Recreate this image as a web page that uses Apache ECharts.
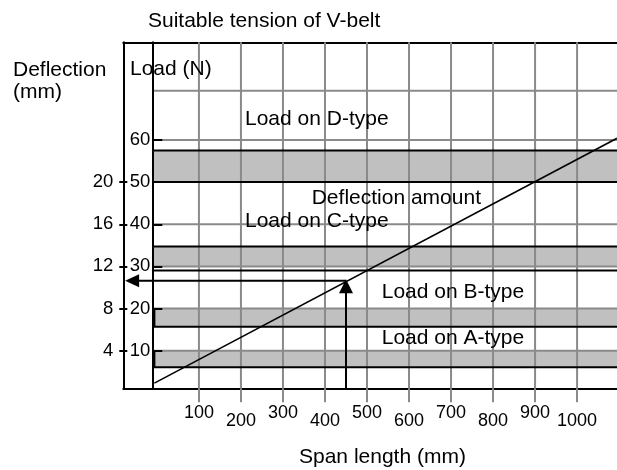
<!DOCTYPE html>
<html>
<head>
<meta charset="utf-8">
<script src="https://cdn.jsdelivr.net/npm/echarts@6/dist/echarts.min.js"></script>
<style>
  html, body { margin: 0; padding: 0; background: #fff; }
  #chart { width: 617px; height: 470px; }
</style>
</head>
<body>
<div id="chart"></div>
<script>
// 数据
//-----

// 横轴：跨距 (mm)
var spanTicks = [100, 200, 300, 400, 500, 600, 700, 800, 900, 1000];
// 纵轴：载荷 (N) 与挠度 (mm)
var loadTicks = [10, 20, 30, 40, 50, 60];
var deflectionTicks = [4, 8, 12, 16, 20];
var loadGrid = [10, 20, 30, 40, 50, 60, 71.7];

// 各型号皮带的载荷范围
var bandNames = ['D', 'C', 'B', 'A'];
var bandLow = [50, 30, 15.7, 6.1];
var bandHigh = [57.5, 34.7, 20, 10];
var bandStart = [-11, -11, -6, -6];
var bandRules = [57.5, 50, 34.7, 29, 15.7, 6.1];

// 挠度线 与 示例读数
var deflectionLine = [[-6, 2.3], [1095, 60.4]];
var exampleSpan = 450;
var exampleLoad = 26.6;

// 坐标范围
var spanMin = -80, spanMax = 1095, loadAxisAt = -11;
var loadMin = 1.08, loadMax = 83.17;
var ratio = 0.4; // 挠度 = 载荷 * 0.4

var GRAY = '#8a8a8a';
var FONT = '"Liberation Sans", Arial, sans-serif';

var myChart = echarts.init(document.getElementById('chart'));

function lineItem(p1, p2, color, width) {
  return {
    type: 'line',
    shape: { x1: p1[0], y1: p1[1], x2: p2[0], y2: p2[1] },
    style: { stroke: color, lineWidth: width }
  };
}

function label(text, x, y, align) {
  return {
    type: 'text', x: x, y: y, z: 100,
    style: { text: text, fill: '#000', fontSize: 21, fontFamily: FONT,
             align: align || 'left', verticalAlign: 'middle' }
  };
}

var option = {
  animation: false,
  backgroundColor: '#fff',
  grid: { left: 123.3, right: 0, top: 42.3, bottom: 81.7 },
  xAxis: [
    {
      type: 'value', position: 'bottom', min: spanMin, max: spanMax,
      axisLine: { onZero: false, lineStyle: { color: '#000', width: 2 } },
      axisTick: { customValues: spanTicks, length: 14, lineStyle: { color: GRAY, width: 2 } },
      axisLabel: {
        customValues: spanTicks, margin: 16, color: '#000',
        fontSize: 18, fontFamily: FONT,
        formatter: function (v) {
          return (v / 100) % 2 ? '{hi|' + v + '}' : '{lo|' + v + '}';
        },
        rich: {
          hi: { fontSize: 18, fontFamily: FONT, color: '#000' },
          lo: { fontSize: 18, fontFamily: FONT, color: '#000', padding: [8, 0, 0, 0] }
        }
      },
      splitLine: { show: false }
    },
    {
      type: 'value', position: 'top', min: spanMin, max: spanMax,
      axisLine: { onZero: false, lineStyle: { color: '#000', width: 2 } },
      axisTick: { show: false }, axisLabel: { show: false }, splitLine: { show: false }
    }
  ],
  yAxis: [
    {
      // 载荷 (N)
      type: 'value', position: 'left', offset: -29, min: loadMin, max: loadMax, z: 5,
      axisLine: { show: true, onZero: false, lineStyle: { color: '#000', width: 2 } },
      axisTick: { show: true, customValues: loadTicks, inside: true, length: 10,
                  lineStyle: { color: '#000', width: 2 } },
      axisLabel: { customValues: loadTicks, margin: 2, color: '#000', fontSize: 18.5, fontFamily: FONT },
      splitLine: { show: false }
    },
    {
      // 挠度 (mm)
      type: 'value', position: 'left', min: loadMin * ratio, max: loadMax * ratio, z: 5,
      axisLine: { show: true, onZero: false, lineStyle: { color: '#000', width: 2 } },
      axisTick: { show: true, customValues: deflectionTicks, length: 4,
                  lineStyle: { color: '#000', width: 2 } },
      axisLabel: { customValues: deflectionTicks, margin: 10, color: '#000', fontSize: 18.5, fontFamily: FONT },
      splitLine: { show: false }
    },
    {
      type: 'value', position: 'left', min: loadMin * ratio, max: loadMax * ratio, z: 5,
      axisLine: { show: false, onZero: false },
      axisTick: { show: true, customValues: deflectionTicks, inside: true, length: 4,
                  lineStyle: { color: '#000', width: 2 } },
      axisLabel: { show: false },
      splitLine: { show: false }
    }
  ],
  series: [
    {
      // 灰色载荷带
      type: 'custom', z: 1,
      data: bandNames.map(function (n, i) { return [bandStart[i], bandLow[i], bandHigh[i]]; }),
      encode: { x: 0, y: [1, 2] },
      renderItem: function (params, api) {
        var x0 = api.value(0);
        var tl = api.coord([x0, api.value(2)]);
        var br = api.coord([spanMax, api.value(1)]);
        var children = [{
          type: 'rect',
          shape: { x: tl[0], y: tl[1], width: br[0] - tl[0], height: br[1] - tl[1] },
          style: { fill: '#c0c0c0' }
        }];
        if (x0 > loadAxisAt) {
          children.push(lineItem([tl[0], tl[1]], [tl[0], br[1]], '#000', 2));
        }
        return { type: 'group', children: children };
      }
    },
    {
      // 纵向网格
      type: 'custom', z: 2,
      data: spanTicks.map(function (v) { return [v, loadMin]; }),
      encode: { x: 0, y: 1 },
      renderItem: function (params, api) {
        return lineItem(api.coord([api.value(0), loadMin]), api.coord([api.value(0), loadMax]), GRAY, 2);
      }
    },
    {
      // 横向网格
      type: 'custom', z: 2,
      data: loadGrid.map(function (v) { return [loadAxisAt, v]; }),
      encode: { x: 0, y: 1 },
      renderItem: function (params, api) {
        return lineItem(api.coord([loadAxisAt, api.value(1)]), api.coord([spanMax, api.value(1)]), GRAY, 2);
      }
    },
    {
      // 载荷带边线
      type: 'custom', z: 3,
      data: bandRules.map(function (v) { return [loadAxisAt, v]; }),
      encode: { x: 0, y: 1 },
      renderItem: function (params, api) {
        return lineItem(api.coord([loadAxisAt, api.value(1)]), api.coord([spanMax, api.value(1)]), '#000', 2);
      }
    },
    {
      name: 'Deflection amount',
      type: 'line', z: 4, symbol: 'none', clip: false,
      data: deflectionLine,
      lineStyle: { color: '#000', width: 1.6 }
    },
    {
      // 竖向箭头
      type: 'line', z: 4, clip: false,
      data: [
        { value: [exampleSpan, loadMin], symbol: 'none' },
        { value: [exampleSpan, exampleLoad - 1.3], symbol: 'triangle', symbolSize: [14, 14] }
      ],
      itemStyle: { color: '#000' },
      lineStyle: { color: '#000', width: 2 }
    },
    {
      // 横向箭头
      type: 'line', z: 4, clip: false,
      data: [
        { value: [exampleSpan, exampleLoad], symbol: 'none' },
        { value: [-59, exampleLoad], symbol: 'triangle', symbolSize: [13, 14], symbolRotate: 90 }
      ],
      itemStyle: { color: '#000' },
      lineStyle: { color: '#000', width: 2 }
    }
  ],
  graphic: [
    label('Suitable tension of V-belt', 148, 21),
    label('Deflection', 13, 70),
    label('(mm)', 13, 92.7),
    label('Load (N)', 130, 69.4),
    label('Load on D-type', 245, 119.4),
    label('Deflection amount', 311.7, 198.7),
    label('Load on C-type', 245, 221.7),
    label('Load on B-type', 381.7, 292),
    label('Load on A-type', 381.7, 338.4),
    label('Span length (mm)', 299, 457.7)
  ]
};

myChart.setOption(option);
</script>
</body>
</html>
